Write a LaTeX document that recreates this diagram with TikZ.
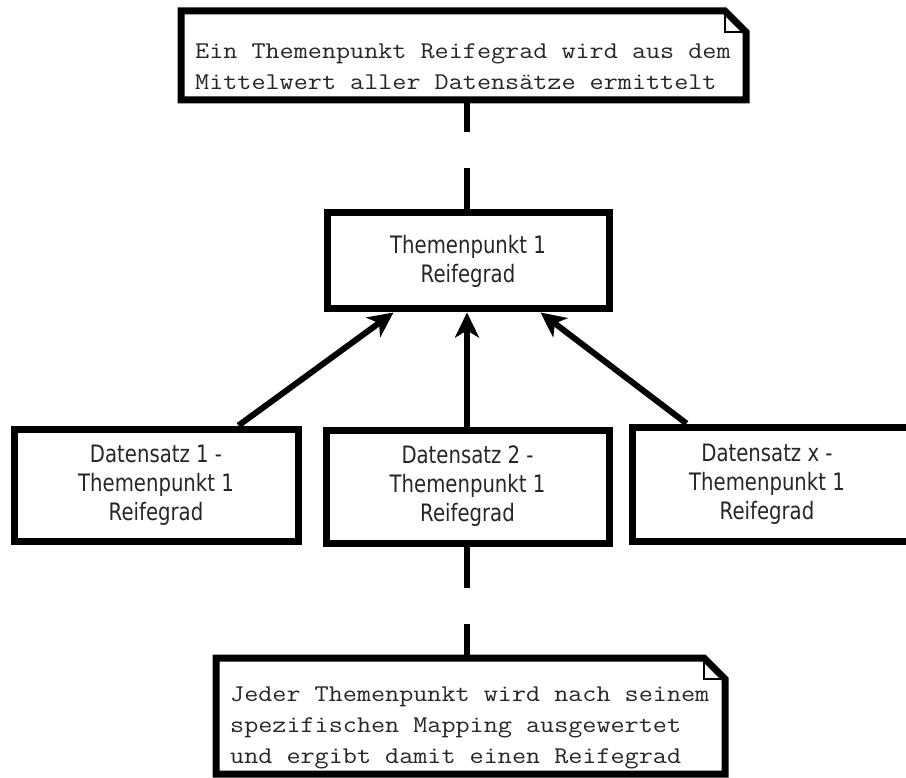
\documentclass[tikz,border=0pt]{standalone}
\usepackage{fontspec}
\usetikzlibrary{arrows.meta,calc}
\newfontfamily\boxfont[FakeStretch=0.82]{DejaVu Sans}
\newfontfamily\notefont[FakeStretch=1.14]{Latin Modern Mono}
\definecolor{ink}{HTML}{262626}

\tikzset{
  boxtext/.style={text=ink, align=center, font=\boxfont\fontsize{24}{29}\selectfont},
  stepbox/.style={draw=black, line width=7pt, fill=white, rectangle, boxtext},
  noteshape/.style={rectangle, draw=none, outer sep=0pt, inner sep=0pt},
  noteline/.style={draw=black, line width=7pt, line join=miter, fill=white},
  notefold/.style={draw=black, line width=2pt},
  notetext/.style={text=ink, align=left, inner sep=0pt,
    font=\notefont\fontsize{24}{31}\selectfont},
  link/.style={draw=black, line width=6pt, dash pattern=on 41pt off 36pt},
  arr/.style={draw=black, line width=6pt,
    -{Stealth[length=25pt, width=24pt, inset=7pt]}},
}

\begin{document}
\begin{tikzpicture}[x=1pt, y=-1pt]
  \useasboundingbox (0,0) rectangle (906,778);
  \clip (0,0) rectangle (906,778);

  % upper note
  \node[noteshape, minimum width=565pt, minimum height=89pt] (n1) at (463.5,55.5) {};
  \path[noteline] (n1.north west) -- ($(n1.north east)+(-21,0)$)
    -- ($(n1.north east)+(0,21)$) -- (n1.south east) -- (n1.south west) -- cycle;
  \draw[notefold] ($(n1.north east)+(-21,0)$) -- ($(n1.north east)+(-21,21)$)
    -- ($(n1.north east)+(0,21)$);
  \node[notetext, anchor=west] (t1) at ($(n1.west)+(14,11)$)
    {Ein Themenpunkt Reifegrad wird aus dem\\Mittelwert aller Datensätze ermittelt};

  % aggregate box
  \node[stepbox, minimum width=282pt, minimum height=96pt] (tp) at (468,261)
    {Themenpunkt 1\\Reifegrad};

  % data set boxes
  \node[stepbox, minimum width=284pt, minimum height=112pt] (b1) at (156,485)
    {Datensatz 1 -\\Themenpunkt 1\\Reifegrad};
  \node[stepbox, minimum width=283pt, minimum height=113pt] (b2) at (467.5,486.5)
    {Datensatz 2 -\\Themenpunkt 1\\Reifegrad};
  % this one runs past the right margin, so its text is placed by hand
  \node[stepbox, minimum width=336pt, minimum height=114pt,
        label={[boxtext, xshift=-33pt]center:{Datensatz x -\\Themenpunkt 1\\Reifegrad}}]
        (b3) at (800,484) {};

  % lower note
  \node[noteshape, minimum width=509pt, minimum height=116pt] (n2) at (470.5,716) {};
  \path[noteline] (n2.north west) -- ($(n2.north east)+(-21,0)$)
    -- ($(n2.north east)+(0,21)$) -- (n2.south east) -- (n2.south west) -- cycle;
  \draw[notefold] ($(n2.north east)+(-21,0)$) -- ($(n2.north east)+(-21,21)$)
    -- ($(n2.north east)+(0,21)$);
  \node[notetext, anchor=west] (t2) at ($(n2.west)+(14,12)$)
    {Jeder Themenpunkt wird nach seinem\\spezifischen Mapping ausgewertet\\und ergibt damit einen Reifegrad};

  % note links
  \draw[link] (tp.north -| 467,0) -- (n1.south -| 467,0);
  \draw[link] (b2.south -| 467,0) -- (n2.north -| 467,0);

  % aggregation arrows
  \draw[arr] ($(b1.north west)+(228,0)$) -- ($(tp.south west)+(70,0)$);
  \draw[arr] (b2.north -| 467,0) -- (tp.south -| 467,0);
  \draw[arr] ($(b3.north west)+(58,0)$) -- ($(tp.south east)+(-72,0)$);
\end{tikzpicture}
\end{document}
